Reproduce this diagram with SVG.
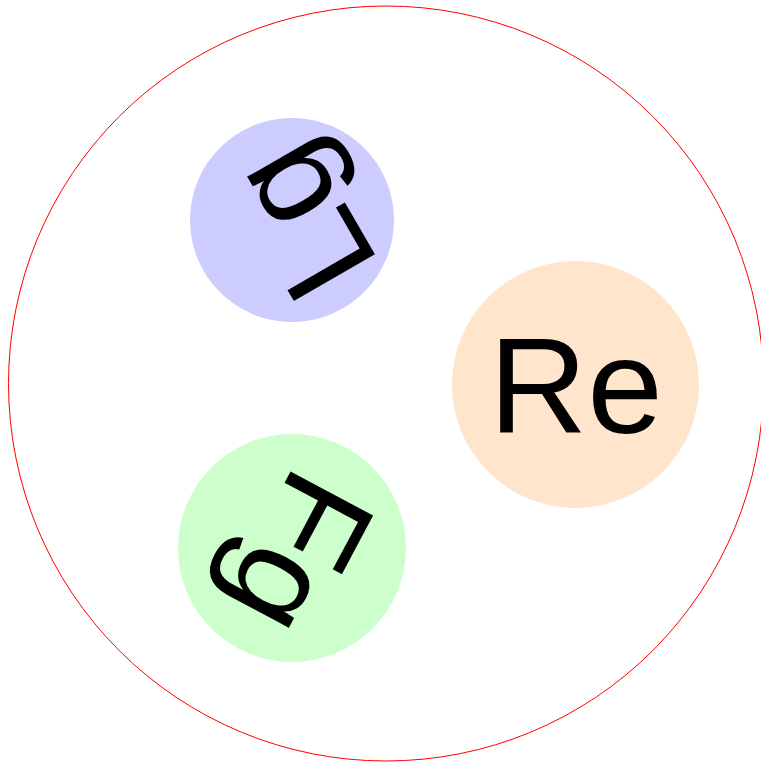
<svg xmlns="http://www.w3.org/2000/svg" width="761" height="763" viewBox="0 0 761 763">
<style>
.lbl{font-family:"Liberation Sans","DejaVu Sans",sans-serif;font-size:136px;fill:#000;text-anchor:middle;dominant-baseline:central}
</style>
<rect width="761" height="763" fill="#fff"/>
<g id="outer"><circle cx="386" cy="383.5" r="377.5" fill="none" stroke="#ff0000" stroke-width="1"/></g>
<g id="node-Lg">
<circle cx="292" cy="220" r="102" fill="#ccccff"/>
<text class="lbl" transform="translate(302,222) rotate(-120)">Lg</text>
</g>
<g id="node-Re">
<circle cx="575.5" cy="384.5" r="123.5" fill="#ffe5cc"/>
<text class="lbl" transform="translate(576,386)">Re</text>
</g>
<g id="node-Fg">
<circle cx="292" cy="548" r="114" fill="#ccffcc"/>
<text class="lbl" transform="translate(300,554) rotate(118)">Fg</text>
</g>
<g id="connectors"/>
</svg>
